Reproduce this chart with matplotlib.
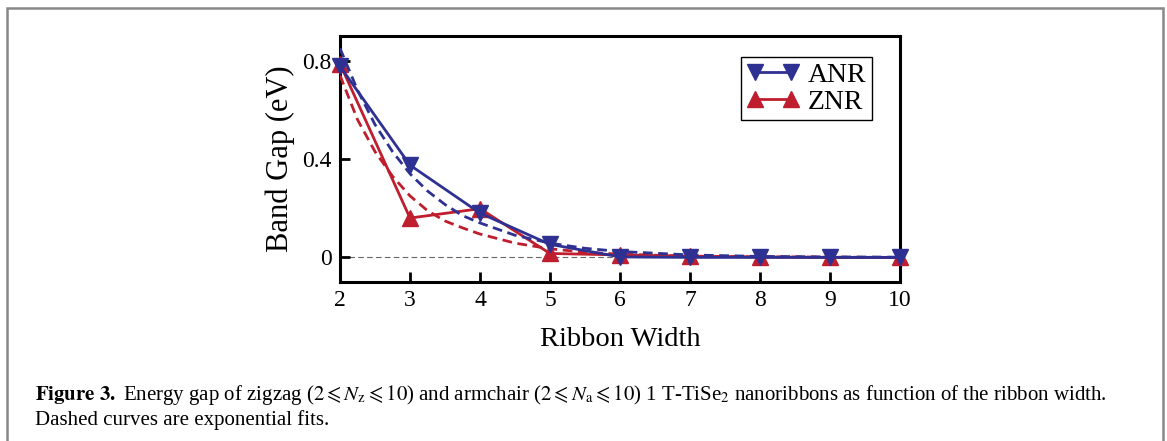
import matplotlib
matplotlib.use("Agg")
from matplotlib import pyplot as plt
from matplotlib import patches

plt.rcParams['font.family'] = ['Liberation Serif', 'DejaVu Serif']
plt.rcParams['mathtext.fontset'] = 'stix'

# ribbon widths
width = [2, 3, 4, 5, 6, 7, 8, 9, 10]
anr_gap = [0.777, 0.375, 0.18, 0.053, 0.002, 0.0, 0.0, 0.0, 0.0]
znr_gap = [0.787, 0.16, 0.198, 0.016, 0.01, 0.005, 0.002, 0.0, 0.0]

# exponential fits
fit_x = [2, 2.25, 2.5, 2.75, 3, 3.25, 3.5, 3.75, 4, 4.5, 5, 5.5, 6, 7, 8, 9, 10]
anr_fit = [0.85, 0.68, 0.54, 0.43, 0.34, 0.27, 0.215, 0.17, 0.14, 0.09, 0.058,
           0.037, 0.024, 0.01, 0.004, 0.002, 0.001]
znr_fit = [0.74, 0.56, 0.43, 0.33, 0.25, 0.19, 0.148, 0.12, 0.095, 0.058, 0.035,
           0.021, 0.013, 0.005, 0.002, 0.001, 0.0]

blue = '#2e3192'
red = '#be1e2d'

fig = plt.figure(figsize=(11.67, 4.41), dpi=100)
fig.patches.append(patches.Rectangle((7 / 1167, -0.05), 1156 / 1167, 1 - 8 / 441 + 0.05,
                                     transform=fig.transFigure, fill=False,
                                     edgecolor='#888888', linewidth=1.8))

ax = fig.add_axes([340 / 1167, 1 - 282 / 441, 560 / 1167, 246 / 441])
ax.axhline(0, color='#666666', lw=0.8, ls=(0, (5, 3)), zorder=1)

dash = (0, (3.5, 2))
ax.plot(width, znr_gap, color=red, lw=2, marker='^', ms=12, clip_on=False,
        label='ZNR', zorder=3)
ax.plot(fit_x, znr_fit, color=red, lw=2, ls=dash, zorder=3)
ax.plot(width, anr_gap, color=blue, lw=2, marker='v', ms=12, clip_on=False,
        label='ANR', zorder=4)
ax.plot(fit_x, anr_fit, color=blue, lw=2, ls=dash, zorder=4)

ax.set_xlim(2, 10)
ax.set_ylim(-0.1, 0.9)
ax.set_xticks(width)
ax.set_yticks([0, 0.4, 0.8])
ax.set_yticklabels(['0', '0.4', '0.8'])
ax.tick_params(direction='in', length=7, width=2, labelsize=17, pad=6)
for s in ax.spines.values():
    s.set_linewidth(2.2)

ax.set_xlabel('Ribbon Width', fontsize=20.5, labelpad=11)
ax.set_ylabel('Band Gap (eV)', fontsize=22, labelpad=5)

h, l = ax.get_legend_handles_labels()
leg = ax.legend(h[::-1], l[::-1], loc='upper right', bbox_to_anchor=(0.95, 0.915),
                fontsize=20, fancybox=False, edgecolor='black', framealpha=1,
                handlelength=1.9, handletextpad=0.3, borderpad=0.2,
                labelspacing=0.05, borderaxespad=0, numpoints=2)
leg.get_frame().set_linewidth(1.0)

fig.text(35 / 1167, 1 - 400 / 441,
         r'$\bf{Figure\ 3.}$ Energy gap of zigzag ($2\leqslant N_{\rm z}\leqslant 10$) and armchair '
         r'($2\leqslant N_{\rm a}\leqslant 10$) 1 T-TiSe$_2$ nanoribbons as function of the ribbon width.',
         fontsize=15, ha='left', va='baseline')
fig.text(35 / 1167, 1 - 425 / 441, 'Dashed curves are exponential fits.',
         fontsize=15, ha='left', va='baseline')

fig.savefig('out.png', dpi=100)
